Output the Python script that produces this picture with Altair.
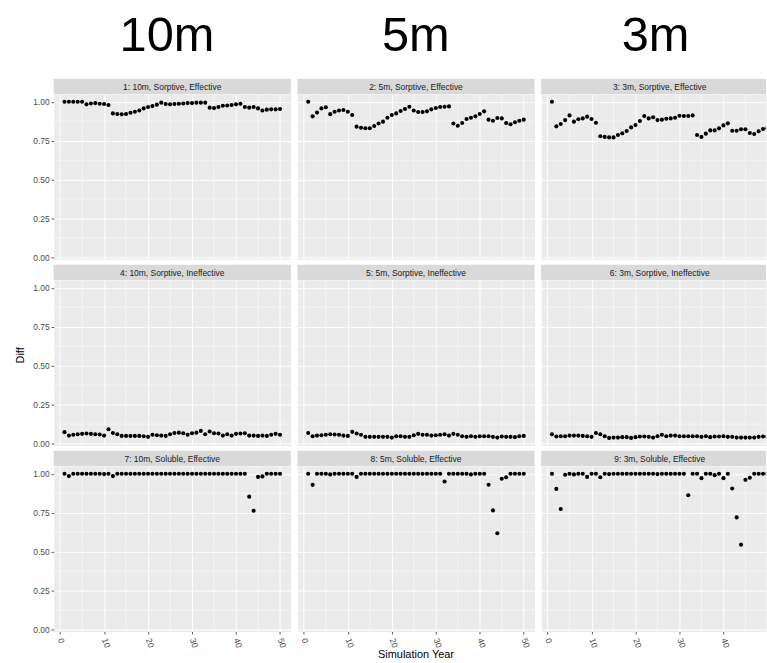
import altair as alt
import pandas as pd

# ---------------- data ----------------
years = [1, 2, 3, 4, 5, 6, 7, 8, 9, 10, 11, 12, 13, 14, 15, 16, 17, 18, 19, 20,
         21, 22, 23, 24, 25, 26, 27, 28, 29, 30, 31, 32, 33, 34, 35, 36, 37, 38, 39, 40,
         41, 42, 43, 44, 45, 46, 47, 48, 49, 50]

diff_10m_sorptive_effective = [
    1.00, 1.00, 1.00, 1.00, 1.00, 0.983, 0.989, 0.991, 0.987, 0.985,
    0.979, 0.925, 0.921, 0.919, 0.921, 0.929, 0.936, 0.944, 0.957, 0.966,
    0.972, 0.981, 0.994, 0.985, 0.983, 0.985, 0.987, 0.989, 0.991, 0.991,
    0.994, 0.994, 0.994, 0.962, 0.959, 0.966, 0.974, 0.976, 0.979, 0.983,
    0.987, 0.966, 0.962, 0.966, 0.957, 0.944, 0.949, 0.951, 0.951, 0.953]
diff_5m_sorptive_effective = [
    1.00, 0.906, 0.930, 0.957, 0.964, 0.920, 0.936, 0.944, 0.947, 0.936,
    0.915, 0.840, 0.833, 0.830, 0.830, 0.844, 0.860, 0.872, 0.897, 0.915,
    0.925, 0.940, 0.953, 0.968, 0.944, 0.934, 0.934, 0.938, 0.951, 0.960,
    0.966, 0.968, 0.970, 0.860, 0.846, 0.863, 0.889, 0.897, 0.906, 0.921,
    0.938, 0.885, 0.878, 0.895, 0.893, 0.863, 0.855, 0.868, 0.878, 0.885]
diff_3m_sorptive_effective = [
    1.00, 0.842, 0.857, 0.882, 0.912, 0.872, 0.887, 0.893, 0.904, 0.889,
    0.865, 0.778, 0.774, 0.771, 0.771, 0.786, 0.797, 0.812, 0.835, 0.850,
    0.876, 0.908, 0.893, 0.900, 0.882, 0.885, 0.891, 0.893, 0.897, 0.910,
    0.908, 0.908, 0.912, 0.786, 0.774, 0.795, 0.816, 0.816, 0.829, 0.848,
    0.861, 0.814, 0.814, 0.823, 0.823, 0.799, 0.793, 0.810, 0.825, 0.830]
diff_10m_sorptive_ineffective = [
    0.073, 0.051, 0.056, 0.060, 0.062, 0.064, 0.062, 0.060, 0.058, 0.051,
    0.092, 0.068, 0.060, 0.049, 0.049, 0.049, 0.049, 0.049, 0.047, 0.043,
    0.056, 0.053, 0.051, 0.049, 0.060, 0.068, 0.070, 0.066, 0.056, 0.066,
    0.070, 0.081, 0.060, 0.077, 0.066, 0.064, 0.051, 0.060, 0.051, 0.062,
    0.064, 0.066, 0.051, 0.051, 0.049, 0.051, 0.049, 0.056, 0.062, 0.056]
diff_5m_sorptive_ineffective = [
    0.068, 0.047, 0.051, 0.053, 0.056, 0.060, 0.058, 0.056, 0.051, 0.049,
    0.075, 0.064, 0.056, 0.043, 0.043, 0.043, 0.043, 0.043, 0.043, 0.038,
    0.047, 0.047, 0.043, 0.043, 0.053, 0.062, 0.056, 0.056, 0.051, 0.053,
    0.056, 0.060, 0.051, 0.062, 0.056, 0.047, 0.043, 0.047, 0.043, 0.047,
    0.047, 0.047, 0.043, 0.038, 0.045, 0.043, 0.043, 0.041, 0.047, 0.049]
diff_3m_sorptive_ineffective = [
    0.060, 0.045, 0.047, 0.047, 0.051, 0.051, 0.051, 0.049, 0.047, 0.043,
    0.068, 0.060, 0.047, 0.036, 0.038, 0.038, 0.041, 0.041, 0.036, 0.041,
    0.045, 0.045, 0.043, 0.038, 0.047, 0.056, 0.047, 0.051, 0.051, 0.047,
    0.047, 0.047, 0.047, 0.047, 0.043, 0.047, 0.041, 0.045, 0.045, 0.047,
    0.043, 0.043, 0.038, 0.038, 0.038, 0.038, 0.038, 0.043, 0.045, 0.045]
diff_10m_soluble_effective = [
    1.00, 0.985, 1.00, 1.00, 1.00, 1.00, 1.00, 1.00, 1.00, 0.998,
    1.00, 0.985, 1.00, 1.00, 1.00, 1.00, 1.00, 1.00, 1.00, 1.00,
    1.00, 1.00, 1.00, 1.00, 1.00, 1.00, 1.00, 1.00, 1.00, 1.00,
    1.00, 1.00, 1.00, 1.00, 1.00, 1.00, 1.00, 1.00, 1.00, 1.00,
    1.00, 1.00, 0.853, 0.763, 0.980, 0.983, 1.00, 1.00, 1.00, 1.00]
diff_5m_soluble_effective = [
    1.00, 0.929, 1.00, 1.00, 1.00, 0.996, 1.00, 1.00, 1.00, 1.00,
    1.00, 0.980, 1.00, 1.00, 1.00, 1.00, 1.00, 1.00, 1.00, 1.00,
    1.00, 1.00, 1.00, 1.00, 1.00, 1.00, 1.00, 1.00, 1.00, 1.00,
    1.00, 0.950, 1.00, 1.00, 1.00, 1.00, 1.00, 0.996, 1.00, 1.00,
    1.00, 0.930, 0.765, 0.618, 0.968, 0.978, 1.00, 1.00, 1.00, 1.00]
diff_3m_soluble_effective = [
    1.00, 0.903, 0.774, 0.994, 1.00, 0.996, 1.00, 1.00, 0.980, 1.00,
    1.00, 0.978, 1.00, 0.998, 1.00, 1.00, 1.00, 1.00, 1.00, 1.00,
    1.00, 1.00, 1.00, 1.00, 0.998, 1.00, 1.00, 1.00, 1.00, 1.00,
    1.00, 0.862, 1.00, 1.00, 0.972, 1.00, 1.00, 0.991, 1.00, 0.972,
    1.00, 0.905, 0.720, 0.545, 0.961, 0.974, 1.00, 1.00, 1.00, 1.00]

panel_series = [
    diff_10m_sorptive_effective, diff_5m_sorptive_effective, diff_3m_sorptive_effective,
    diff_10m_sorptive_ineffective, diff_5m_sorptive_ineffective, diff_3m_sorptive_ineffective,
    diff_10m_soluble_effective, diff_5m_soluble_effective, diff_3m_soluble_effective,
]
strip_labels = [
    "1: 10m, Sorptive, Effective", "2: 5m, Sorptive, Effective", "3: 3m, Sorptive, Effective",
    "4: 10m, Sorptive, Ineffective", "5: 5m, Sorptive, Ineffective", "6: 3m, Sorptive, Ineffective",
    "7: 10m, Soluble, Effective", "8: 5m, Soluble, Effective", "9: 3m, Soluble, Effective",
]
column_titles = ["10m", "5m", "3m"]
y_title = ["Diff"]
x_title = ["Simulation Year"]
x_ticks = [0, 10, 20, 30, 40, 50]
y_ticks = [0.0, 0.25, 0.50, 0.75, 1.00]
x_minor = [5, 15, 25, 35, 45]
y_minor = [0.125, 0.375, 0.625, 0.875]

# ---------------- layout / style ----------------
FONT = "Liberation Sans"
PANEL_W = 238.3
LAST_W = 226.1          # third column is cropped at the picture's right edge
PANEL_H = 166
STRIP_H = 15.5
X_DOM = [-1.45, 52.45]
X_DOM_LAST = [-1.45, 49.7]
Y_DOM = [-0.012, 1.048]
TITLE_X = [113.9, 119.0, 115.0]


def make_cell(row, col):
    idx = row * 3 + col
    w = LAST_W if col == 2 else PANEL_W
    xdom = X_DOM_LAST if col == 2 else X_DOM
    xscale = alt.Scale(domain=xdom, nice=False, zero=False)
    yscale = alt.Scale(domain=Y_DOM, nice=False, zero=False)
    xt = [v for v in x_ticks if xdom[0] <= v <= xdom[1]]
    xm = [v for v in x_minor if xdom[0] <= v <= xdom[1]]

    if row == 2:
        xaxis = alt.Axis(values=xt, format="d", title=None, grid=True, domain=False,
                         labelAngle=70, labelAlign="left", labelBaseline="middle",
                         labelPadding=4, ticks=True, tickSize=2.6)
    else:
        xaxis = alt.Axis(values=xt, title=None, grid=True, domain=False,
                         labels=False, ticks=False)
    if col == 0:
        yaxis = alt.Axis(values=y_ticks, format=".2f", title=None, grid=True, domain=False,
                         ticks=True, tickSize=2.6, labelPadding=2)
    else:
        yaxis = alt.Axis(values=y_ticks, title=None, grid=True, domain=False,
                         labels=False, ticks=False)

    pts_df = pd.DataFrame({"year": years, "diff": panel_series[idx]})

    minor_x = alt.Chart(pd.DataFrame({"year": xm})).mark_rule(
        color="white", strokeWidth=0.5).encode(
        x=alt.X("year:Q", scale=xscale, axis=xaxis))
    minor_y = alt.Chart(pd.DataFrame({"diff": y_minor})).mark_rule(
        color="white", strokeWidth=0.5).encode(
        y=alt.Y("diff:Q", scale=yscale, axis=yaxis))

    points = alt.Chart(pts_df).mark_circle(
        size=17, color="black", opacity=1, clip=True).encode(
        x=alt.X("year:Q", scale=xscale, axis=xaxis),
        y=alt.Y("diff:Q", scale=yscale, axis=yaxis))

    strip_df = pd.DataFrame({"label": [strip_labels[idx]]})
    strip_rect = alt.Chart(strip_df).mark_rect(color="#D9D9D9").encode(
        x=alt.value(0), x2=alt.value(w),
        y=alt.value(-STRIP_H), y2=alt.value(0))
    strip_text = alt.Chart(strip_df).mark_text(
        font=FONT, fontSize=8.5, color="#1A1A1A", align="center", baseline="middle").encode(
        x=alt.value(PANEL_W / 2), y=alt.value(-STRIP_H / 2 + 0.5), text="label:N")

    layers = [minor_x, minor_y, points, strip_rect, strip_text]

    if row == 0:
        t_df = pd.DataFrame({"t": [column_titles[col]]})
        layers.append(alt.Chart(t_df).mark_text(
            font=FONT, fontSize=49, color="black", align="center",
            baseline="alphabetic").encode(
            x=alt.value(TITLE_X[col]), y=alt.value(-43.2), text="t:N"))
    if row == 0 and col == 0:
        # white corner marker fixing the top-left extent of the picture
        layers.append(alt.Chart(strip_df).mark_rect(color="white").encode(
            x=alt.value(-52.6), x2=alt.value(-52.2),
            y=alt.value(-92.5), y2=alt.value(-92.1)))
    if row == 1 and col == 0:
        d_df = pd.DataFrame({"t": y_title})
        layers.append(alt.Chart(d_df).mark_text(
            font=FONT, fontSize=11, color="black", angle=270, align="center",
            baseline="middle").encode(
            x=alt.value(-32.6), y=alt.value(75.5), text="t:N"))
    if row == 2 and col == 1:
        s_df = pd.DataFrame({"t": x_title})
        layers.append(alt.Chart(s_df).mark_text(
            font=FONT, fontSize=11, color="black", align="center",
            baseline="middle").encode(
            x=alt.value(PANEL_W / 2), y=alt.value(189.5), text="t:N"))

    return alt.layer(*layers).properties(width=w, height=PANEL_H)


cells = [make_cell(r, c) for r in range(3) for c in range(3)]

chart = alt.concat(
    *cells, columns=3, spacing={"row": 21, "column": 6},
    bounds="flush", padding={"left": 0, "top": 0, "right": 0, "bottom": 0},
).configure(
    background="white"
).configure_view(
    fill="#EBEBEB", stroke="transparent"
).configure_axis(
    labelFont=FONT, labelFontSize=8.5, labelColor="#4D4D4D",
    tickColor="#333333", tickWidth=0.8,
    gridColor="white", gridWidth=1.0,
)

chart.save("out.html", embed_options={"renderer": "svg", "actions": False})
